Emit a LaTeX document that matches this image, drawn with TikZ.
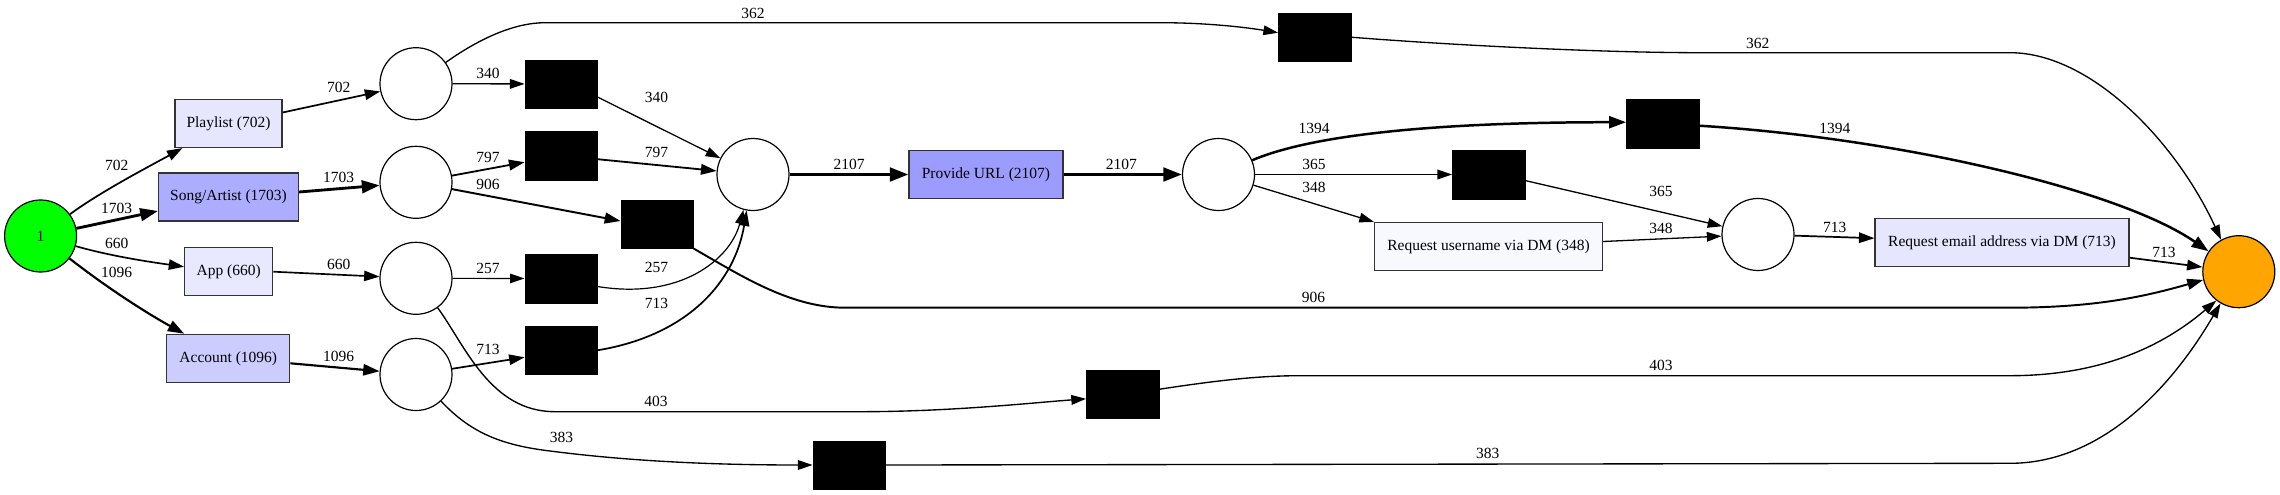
\documentclass[tikz,border=0pt]{standalone}
\usepackage{fontspec}
\setmainfont{Liberation Serif}
\usetikzlibrary{positioning,arrows.meta}

\newcommand{\netfont}{\fontsize{15.5}{18}\selectfont}
\definecolor{startgreen}{HTML}{00FF00}
\definecolor{endorange}{HTML}{FFA500}
\definecolor{frequrl}{HTML}{9C9CFF}
\definecolor{freqsong}{HTML}{ADADFF}
\definecolor{freqacc}{HTML}{CCCCFF}
\definecolor{freqplay}{HTML}{E6E6FF}
\definecolor{freqapp}{HTML}{E8E8FF}
\definecolor{freqmail}{HTML}{E6E6FF}
\definecolor{frequser}{HTML}{F8F8FF}

\begin{document}
\begin{tikzpicture}[
        x=1pt, y=-1pt,
        every node/.style={font=\netfont},
        place/.style={circle, draw, line width=1.2pt, minimum size=72pt, inner sep=0pt},
        trans/.style={draw, fill=black, minimum width=72.5pt, minimum height=48.5pt, inner sep=0pt},
        act/.style={draw=black!80, line width=1.2pt, minimum height=48pt, inner sep=0pt},
        flow/.style={line width=#1, -{Triangle[length=12pt 2, width=7pt 2]}},
        elbl/.style={inner sep=0pt}
    ]
        \useasboundingbox (0,0) rectangle (2280,495);

        % Start and end
        \node[place, fill=startgreen] (start) at (40.6,236) {1};
        \node[place, fill=endorange] (end) at (2238.8,271.7) {};

        % Entry activities
        \node[act, fill=freqplay, minimum width=107pt] (playlist) at (228.5,123.5) {Playlist (702)};
        \node[act, fill=freqsong, minimum width=140pt] (song) at (228.5,197) {Song/Artist (1703)};
        \node[act, fill=freqapp, minimum width=88pt] (app) at (228.7,271.7) {App (660)};
        \node[act, fill=freqacc, minimum width=123pt] (account) at (228.3,358.3) {Account (1096)};

        % Places
        \node[place] (p1) at (416,83.7) {};
        \node[place] (p2) at (416,182.3) {};
        \node[place] (p3) at (416,278.3) {};
        \node[place] (p4) at (416,374.5) {};
        \node[place] (pjoin) at (753,174.5) {};
        \node[place] (pdm) at (1218.5,174.5) {};
        \node[place] (pmail) at (1758,234.5) {};

        % Silent transitions
        \node[trans] (t340) at (561,84) {};
        \node[trans] (t797) at (561,155.7) {};
        \node[trans] (t257) at (561,278.5) {};
        \node[trans] (t713) at (561,350.3) {};
        \node[trans] (t906) at (657,224) {};
        \node[trans] (t383) at (849,465) {};
        \node[trans] (t403) at (1122.5,394.3) {};
        \node[trans] (t362) at (1314.5,37.2) {};
        \node[trans] (t1394) at (1662.5,123.7) {};
        \node[trans] (t365) at (1488.5,174.5) {};

        % Main activities
        \node[act, fill=frequrl, minimum width=154pt] (url) at (986,174.5) {Provide URL (2107)};
        \node[act, fill=frequser, minimum width=228pt] (user) at (1488.5,246.5) {Request username via DM (348)};
        \node[act, fill=freqmail, minimum width=254pt] (email) at (2002,242.7) {Request email address via DM (713)};

        % Arcs from start
        \draw[flow=1.71pt] (start) .. controls (100,192) and (150,166) .. ([xshift=8pt]playlist.south west)
            node[elbl] at (116.7,165.7) {702};
        \draw[flow=2.84pt] (start) -- ([yshift=-14pt]song.west)
            node[elbl] at (116.7,208.7) {1703};
        \draw[flow=1.66pt] (start) .. controls (110,256) and (150,262) .. ([yshift=5pt]app.west)
            node[elbl] at (116.7,243.3) {660};
        \draw[flow=2.15pt] (start) .. controls (110,290) and (150,315) .. ([xshift=18pt]account.north west)
            node[elbl] at (116.7,272.7) {1096};

        % Activities into places
        \draw[flow=1.71pt] ([yshift=11pt]playlist.east) -- (p1) node[elbl] at (338.7,87.7) {702};
        \draw[flow=2.84pt] ([yshift=5pt]song.east) -- (p2) node[elbl] at (338.7,177.7) {1703};
        \draw[flow=1.66pt] (app.east) -- (p3) node[elbl] at (338.7,264.3) {660};
        \draw[flow=2.15pt] ([yshift=-5pt]account.east) -- (p4) node[elbl] at (338.7,356.7) {1096};

        % Places into silent transitions
        \draw[flow=1.29pt] (p1) -- (t340) node[elbl] at (488,73.3) {340};
        \draw[flow=1.32pt] (p1) .. controls (480,38) and (515,22.7) .. (545,22.7) -- (1160,22.7)
            .. controls (1210,22.7) and (1250,28) .. ([yshift=4.5pt]t362.west)
            node[elbl] at (753,13.3) {362};
        \draw[flow=1.81pt] (p2) -- ([yshift=-6.5pt]t797.west) node[elbl] at (488,157.3) {797};
        \draw[flow=1.94pt] (p2) -- ([yshift=3pt]t906.west) node[elbl] at (488,184.3) {906};
        \draw[flow=1.2pt] (p3) -- (t257) node[elbl] at (488,268.7) {257};
        \draw[flow=1.37pt] (p3) .. controls (465,345) and (490,411.7) .. (555,411.7) -- (860,411.7)
            .. controls (950,411.7) and (1030,403) .. ([yshift=-4.5pt]t403.west)
            node[elbl] at (656,401.7) {403};
        \draw[flow=1.72pt] (p4) -- ([yshift=-7pt]t713.west) node[elbl] at (488,349.3) {713};
        \draw[flow=1.34pt] (p4) .. controls (470,432) and (500,445) .. (550,451)
            .. controls (620,460) and (700,465) .. (t383.west)
            node[elbl] at (561.4,437.7) {383};

        % Into the join place
        \draw[flow=1.29pt] ([yshift=-13pt]t340.east) -- (pjoin) node[elbl] at (656.4,97.7) {340};
        \draw[flow=1.81pt] ([yshift=-3.5pt]t797.east) -- (pjoin) node[elbl] at (656.4,152.7) {797};
        \draw[flow=1.2pt] ([yshift=-8pt]t257.east) .. controls (680,300) and (730,260) .. (pjoin.255)
            node[elbl] at (656.4,267.7) {257};
        \draw[flow=1.72pt] (t713.east) .. controls (690,335) and (735,280) .. (pjoin.260)
            node[elbl] at (656.4,303.3) {713};

        % Provide URL
        \draw[flow=3.3pt] (pjoin) -- (url) node[elbl] at (849,164.3) {2107};
        \draw[flow=3.3pt] (url) -- (pdm) node[elbl] at (1121.4,164.3) {2107};

        % After the URL
        \draw[flow=2.49pt] (pdm) .. controls (1300,140) and (1400,122.3) .. ([yshift=1.5pt]t1394.west)
            node[elbl] at (1314,128.3) {1394};
        \draw[flow=1.32pt] (pdm) -- (t365) node[elbl] at (1314,164.3) {365};
        \draw[flow=1.3pt] (pdm) -- (user.north west) node[elbl] at (1314,187.7) {348};
        \draw[flow=1.32pt] ([yshift=-6pt]t365.east) -- (pmail) node[elbl] at (1661,191.7) {365};
        \draw[flow=1.3pt] ([yshift=5pt]user.east) -- (pmail) node[elbl] at (1661,228.7) {348};
        \draw[flow=1.72pt] (pmail) -- ([yshift=4.5pt]email.west) node[elbl] at (1834.8,227.7) {713};

        % Into the end
        \draw[flow=1.72pt] ([yshift=-15pt]email.east) -- (end) node[elbl] at (2164,252.3) {713};
        \draw[flow=1.32pt] (t362.east) .. controls (1450,45) and (1600,52.7) .. (1700,52.7) -- (2010,52.7)
            .. controls (2090,52.7) and (2175,140) .. (end.119)
            node[elbl] at (1757.7,43.3) {362};
        \draw[flow=2.49pt] ([yshift=-2pt]t1394.east) .. controls (1900,138) and (2120,190) .. (end.146)
            node[elbl] at (1834.8,128.3) {1394};
        \draw[flow=1.94pt] (t906.south east) .. controls (740,275) and (790,307.7) .. (845,307.7) -- (2010,307.7)
            .. controls (2100,307.7) and (2150,295) .. (end.193)
            node[elbl] at (1313.5,297.7) {906};
        \draw[flow=1.37pt] ([yshift=5pt]t403.east) .. controls (1220,380) and (1260,375.7) .. (1300,375.7) -- (2010,375.7)
            .. controls (2110,375.7) and (2170,340) .. (end.232)
            node[elbl] at (1661,365.7) {403};
        \draw[flow=1.34pt] (t383.east) -- (2010,463.3)
            .. controls (2100,463.3) and (2170,390) .. (end.240)
            node[elbl] at (1487.7,453.3) {383};
    \end{tikzpicture}
\end{document}
